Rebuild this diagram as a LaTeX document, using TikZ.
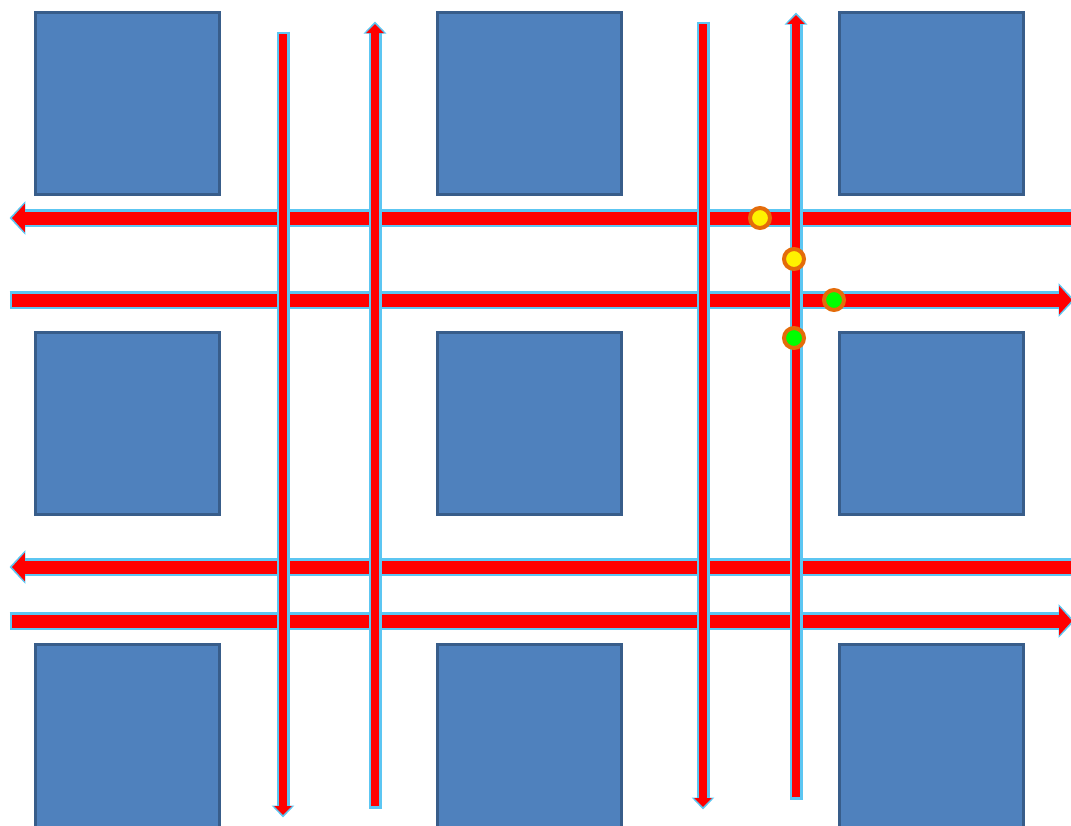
\documentclass[tikz,border=0pt]{standalone}
\usepackage{tikz}
\usetikzlibrary{positioning,arrows.meta}

\definecolor{blkfill}{HTML}{4F81BD}
\definecolor{blkline}{HTML}{385D8A}
\definecolor{busedge}{HTML}{5CC6F2}
\definecolor{dotline}{HTML}{E46C0A}

\begin{document}
\begin{tikzpicture}[x=0.02cm, y=-0.02cm,
    blk/.style={draw=blkline, fill=blkfill, line width=0.06cm, minimum width=3.7cm, minimum height=3.66cm, inner sep=0},
    hbus/.style={draw=red, line width=0.26cm, -{Triangle[length=0.26cm, width=0.56cm]},
      preaction={draw=busedge, line width=0.36cm, shorten >=-0.05cm, shorten <=-0.05cm, -{Triangle[length=0.32cm, width=0.66cm]}}},
    vbus/.style={draw=red, line width=0.16cm, -{Triangle[length=0.18cm, width=0.34cm]},
      preaction={draw=busedge, line width=0.26cm, shorten >=-0.05cm, shorten <=-0.05cm, -{Triangle[length=0.24cm, width=0.44cm]}}},
    sig/.style={circle, draw=dotline, line width=0.08cm, minimum size=0.4cm, inner sep=0}]

    \useasboundingbox (0,0) rectangle (1071,825);
    \clip (0,0) rectangle (1071,825);

    \node[blk] (b11) at (127.5,103.5) {};
    \node[blk] (b12) at (529.5,103.5) {};
    \node[blk] (b13) at (931.5,103.5) {};
    \node[blk] (b21) at (127.5,423.5) {};
    \node[blk] (b22) at (529.5,423.5) {};
    \node[blk] (b23) at (931.5,423.5) {};
    \node[blk] (b31) at (127.5,736) {};
    \node[blk] (b32) at (529.5,736) {};
    \node[blk] (b33) at (931.5,736) {};

    \coordinate (h1a) at (1090,218);
    \coordinate (h1b) at (12,218);
    \coordinate (h2a) at (12,300);
    \coordinate (h2b) at (1072,300);
    \coordinate (h3a) at (1090,567);
    \coordinate (h3b) at (12,567);
    \coordinate (h4a) at (12,621);
    \coordinate (h4b) at (1072,621);

    \coordinate (v1a) at (283,34);
    \coordinate (v1b) at (283,815);
    \coordinate (v2a) at (375,806);
    \coordinate (v2b) at (375,24);
    \coordinate (v3a) at (703,24);
    \coordinate (v3b) at (703,807);
    \coordinate (v4a) at (796,797);
    \coordinate (v4b) at (796,15);

    \draw[hbus] (h1a) -- (h1b);
    \draw[hbus] (h2a) -- (h2b);
    \draw[hbus] (h3a) -- (h3b);
    \draw[hbus] (h4a) -- (h4b);

    \draw[vbus] (v1a) -- (v1b);
    \draw[vbus] (v2a) -- (v2b);
    \draw[vbus] (v3a) -- (v3b);
    \draw[vbus] (v4a) -- (v4b);

    \node[sig, fill=yellow] (s1) at (760,218) {};
    \node[sig, fill=yellow] (s2) at (794,259) {};
    \node[sig, fill=green] (s3) at (834,300) {};
    \node[sig, fill=green] (s4) at (794,338) {};
\end{tikzpicture}
\end{document}
